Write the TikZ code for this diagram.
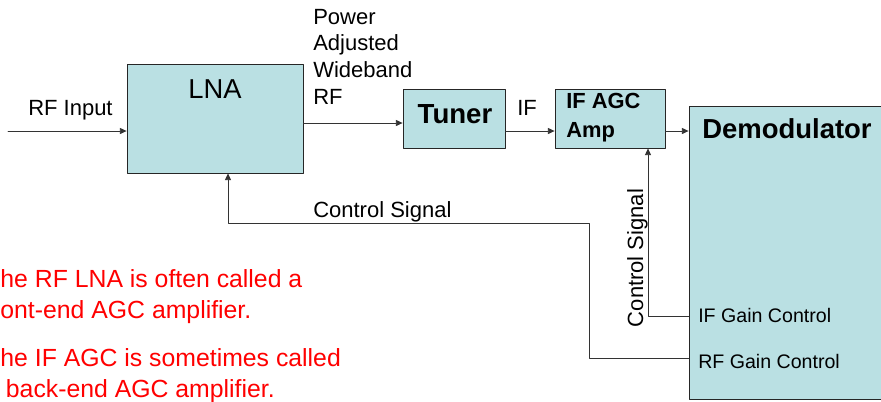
\documentclass[tikz,border=0pt]{standalone}
\usepackage{fontspec}
\setmainfont{Liberation Sans}
\usetikzlibrary{positioning,arrows.meta}
\definecolor{boxblue}{RGB}{186,224,227}

\begin{document}
\begin{tikzpicture}[x=0.75pt,y=-0.75pt, line cap=round, line join=round,
  blk/.style={draw=black!85, fill=boxblue, line width=0.6pt, inner sep=0pt},
  sig/.style={draw=black!80, line width=0.6pt, -{Triangle[length=5pt,width=4.5pt]}},
  lbl/.style={font=\fontsize{16.5}{19.9}\selectfont, inner sep=0pt, anchor=base west, align=left},
  note/.style={text=red, font=\fontsize{18.6}{23.25}\selectfont, inner sep=0pt, anchor=base west, align=left}]
\clip (0,0) rectangle (881,401);

% blocks
\node[blk, minimum width=132pt, minimum height=81.75pt] (lna) at (215,118.5) {};
\node[blk, minimum width=76.5pt, minimum height=44.25pt] (tuner) at (454,118.5) {};
\node[blk, minimum width=82.5pt, minimum height=44.25pt] (ifagc) at (610,118.5) {};
\node[blk, minimum width=150.75pt, minimum height=219.75pt] (demod) at (789.5,252.5) {};

% block texts (multi-line nodes sit on their last line)
\node[inner sep=0pt, anchor=base, font=\fontsize{20.5}{24}\selectfont] (lnatxt) at (215,98) {LNA};
\node[inner sep=0pt, anchor=base, font=\fontsize{20.7}{24}\selectfont\bfseries] (tunertxt) at (455,123) {Tuner};
\node[lbl, font=\fontsize{16.4}{21.75}\selectfont\bfseries] (ifagctxt) at (566,137) {IF AGC\\Amp};
\node[lbl, font=\fontsize{20.6}{24}\selectfont\bfseries] (demodtxt) at (702,138) {Demodulator};
\node[lbl, font=\fontsize{14.7}{18}\selectfont] (ifgc) at (698,322) {IF Gain Control};
\node[lbl, font=\fontsize{14.7}{18}\selectfont] (rfgc) at (698,368) {RF Gain Control};

% signal labels
\node[lbl] (rfinlbl) at (28,115) {RF Input};
\node[lbl] (pawrf) at (313,104) {Power\\Adjusted\\Wideband\\RF};
\node[lbl] (iflbl) at (517,115) {IF};
\node[lbl] (ctrl1) at (313,217) {Control Signal};
\node[lbl, anchor=base, rotate=90] (ctrl2) at (643,258) {Control Signal};

% forward path
\coordinate (rfin) at (8,131);
\draw[sig] (rfin) -- (rfin -| lna.west);
\draw[sig] (lna.east |- 0,123) -- (tuner.west |- 0,123);
\draw[sig] (tuner.east |- 0,131) -- (ifagc.west |- 0,131);
\draw[sig] (ifagc.east |- 0,131) -- (demod.west |- 0,131);

% gain control loops
\draw[sig] (demod.west |- 0,358) -| (589,223) -| (lna.south -| 228,0);
\draw[sig] (demod.west |- 0,316) -| (ifagc.south -| 648,0);

% notes
\node[note] (note1) at (-15,318) {The RF LNA is often called a\\front-end AGC amplifier.};
\node[note] (note2) at (-15,397) {The IF AGC is sometimes called\\a back-end AGC amplifier.};
\end{tikzpicture}
\end{document}
